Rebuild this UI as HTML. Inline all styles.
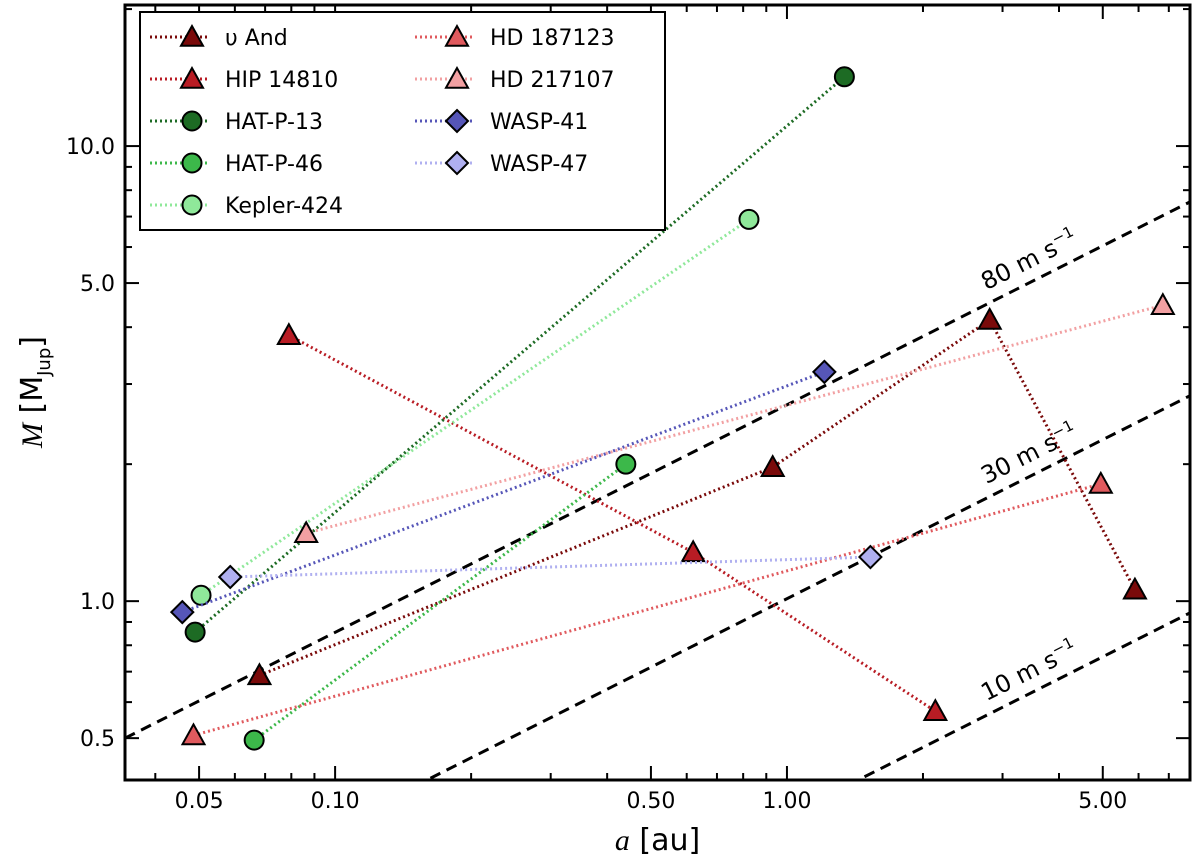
<!DOCTYPE html>
<html><head><meta charset="utf-8"><style>
html,body{margin:0;background:#fff;overflow:hidden;width:1200px;height:863px;}
svg{display:block;font-family:"DejaVu Sans","Liberation Sans",sans-serif;}
</style></head><body>
<svg id="chart" width="1200" height="863" viewBox="0 0 1200 863" xmlns="http://www.w3.org/2000/svg"></svg>
<script>
// ---- data ----
const systemNames = ["υ And","HIP 14810","HAT-P-13","HAT-P-46","Kepler-424","HD 187123","HD 217107","WASP-41","WASP-47"];
const systemA = [[0.068,0.93,2.81,5.89],[0.079,0.62,2.13],[0.049,1.34],[0.0662,0.44],[0.0505,0.824],[0.0486,4.95],[0.0863,6.79],[0.0459,1.21],[0.0586,1.53]];
const systemM = [[0.687,1.97,4.15,1.06],[3.84,1.28,0.573],[0.855,14.2],[0.495,2.0],[1.03,6.9],[0.507,1.81],[1.41,4.47],[0.946,3.19],[1.13,1.25]];
const systemColors = ["#7a0a0a","#b81c24","#1d6b24","#3cb84a","#8fe89a","#e05a5e","#f2a0a2","#5656b8","#b0b0f0"];
const systemMarkers = ["tri","tri","circ","circ","circ","tri","tri","diam","diam"];
const rvLabels = ["80 m s","30 m s","10 m s"];
const rvK = [80,30,10];
const xTicks = [0.05,0.10,0.50,1.00,5.00];
const yTicks = [0.5,1.0,5.0,10.0];

// ---- axes ----
const L=125,R=1190,T=5,B=780;
const xLogMin=-1.465,xLogMax=0.892;
const yLogMin=-0.393,yLogMax=1.31;
const xs=a=>L+(Math.log10(a)-xLogMin)/(xLogMax-xLogMin)*(R-L);
const ys=m=>B-(Math.log10(m)-yLogMin)/(yLogMax-yLogMin)*(B-T);
const svg=document.getElementById('chart');
const NS="http://www.w3.org/2000/svg";
function mk(tag,attrs,parent){const e=document.createElementNS(NS,tag);for(const k in attrs)e.setAttribute(k,attrs[k]);(parent||svg).appendChild(e);return e;}

const defs=mk('defs',{});
const cp=mk('clipPath',{id:'pc'},defs);mk('rect',{x:L,y:T,width:R-L,height:B-T},cp);
const plot=mk('g',{'clip-path':'url(#pc)'});



const C80=2.7;
rvK.forEach((k,i)=>{
  const C=C80*k/80;
  const a0=Math.pow(10,xLogMin),a1=Math.pow(10,xLogMax);
  const ln=mk('line',{x1:xs(a0),y1:ys(C*Math.sqrt(a0)),x2:xs(a1),y2:ys(C*Math.sqrt(a1)),stroke:'#000','stroke-width':3,'stroke-dasharray':'11,7'},plot);
  
  
  const la=3.5;
  const px=xs(la),py=ys(C*Math.sqrt(la))-14;
  const ang=-Math.atan(0.5*(xLogMax-xLogMin)/(yLogMax-yLogMin)*(B-T)/(R-L))*180/Math.PI;
  const t=mk('text',{x:px,y:py,'font-size':24,transform:`rotate(${ang} ${px} ${py})`,'text-anchor':'middle'});
  t.textContent=rvLabels[i];
  const sup=mk('tspan',{'font-size':15,dy:-10},t);sup.textContent='−1';
  
  
});

function marker(type,x,y,color,parent){
  let e;
  if(type==='tri'){const s=11;e=mk('polygon',{points:`${x},${y-s} ${x-s},${y+s*0.8} ${x+s},${y+s*0.8}`},parent);}
  else if(type==='circ'){e=mk('circle',{cx:x,cy:y,r:9.5},parent);}
  else {const s=11;e=mk('polygon',{points:`${x},${y-s} ${x+s},${y} ${x},${y+s} ${x-s},${y}`},parent);}
  e.setAttribute('fill',color);e.setAttribute('stroke','#000');e.setAttribute('stroke-width',2);
  return e;
}

systemNames.forEach((n,i)=>{
  const g=mk('g',{},plot);
  
  
  const pts=systemA[i].map((a,j)=>xs(a)+','+ys(systemM[i][j])).join(' ');
  mk('polyline',{points:pts,fill:'none',stroke:systemColors[i],'stroke-width':3,'stroke-dasharray':'2,3'},g);
  systemA[i].forEach((a,j)=>{
    const m=marker(systemMarkers[i],xs(a),ys(systemM[i][j]),systemColors[i],g);
    
    
  });
});

const fr=mk('rect',{x:L,y:T,width:R-L,height:B-T,fill:'none',stroke:'#000','stroke-width':3});



const tg=mk('g',{stroke:'#000'});


for(let d=-2;d<=1;d++)for(let k=1;k<=9;k++){
  const a=k*Math.pow(10,d);const lg=Math.log10(a);
  if(lg<xLogMin||lg>xLogMax)continue;const x=xs(a);const major=xTicks.some(v=>Math.abs(v-a)<1e-9);
  const len=major?14:7;
  mk('line',{x1:x,y1:B,x2:x,y2:B-len,'stroke-width':2},tg);mk('line',{x1:x,y1:T,x2:x,y2:T+len,'stroke-width':2},tg);
}
for(let d=-1;d<=1;d++)for(let k=1;k<=9;k++){
  const m=k*Math.pow(10,d);const lg=Math.log10(m);
  if(lg<yLogMin||lg>yLogMax)continue;const y=ys(m);const major=yTicks.some(v=>Math.abs(v-m)<1e-9);
  const len=major?14:7;
  mk('line',{x1:L,y1:y,x2:L+len,y2:y,'stroke-width':2},tg);mk('line',{x1:R,y1:y,x2:R-len,y2:y,'stroke-width':2},tg);
}
xTicks.forEach(v=>{const t=mk('text',{x:xs(v),y:B+28,'font-size':22,'text-anchor':'middle'});t.textContent=v.toFixed(2);
  });
yTicks.forEach(v=>{const t=mk('text',{x:L-10,y:ys(v)+8,'font-size':22,'text-anchor':'end'});t.textContent=v.toFixed(1);
  });

const xt=mk('text',{x:(L+R)/2,y:850,'font-size':30,'text-anchor':'middle'});
xt.innerHTML='<tspan font-family="Liberation Serif" font-style="italic">a</tspan> [au]';

const yt=mk('text',{x:0,y:0,'font-size':30,'text-anchor':'middle',transform:'translate(42,392) rotate(-90)'});
yt.innerHTML='<tspan font-family="Liberation Serif" font-style="italic">M</tspan> [M<tspan font-size="18" dy="8">Jup</tspan><tspan dy="-8">]</tspan>';


const lg=mk('g',{});

mk('rect',{x:140,y:12,width:525,height:218,fill:'#fff',stroke:'#000','stroke-width':2},lg);
systemNames.forEach((n,i)=>{
  const col=i<5?0:1,row=i<5?i:i-5;
  const x0=col?415:150,y0=37+row*42;
  const e=mk('g',{},lg);
  
  mk('line',{x1:x0,y1:y0,x2:x0+60,y2:y0,stroke:systemColors[i],'stroke-width':3,'stroke-dasharray':'2,3'},e);
  marker(systemMarkers[i],x0+42,y0,systemColors[i],e);
  const t=mk('text',{x:x0+75,y:y0+8,'font-size':22},e);t.textContent=n;
});
</script>
</body></html>
